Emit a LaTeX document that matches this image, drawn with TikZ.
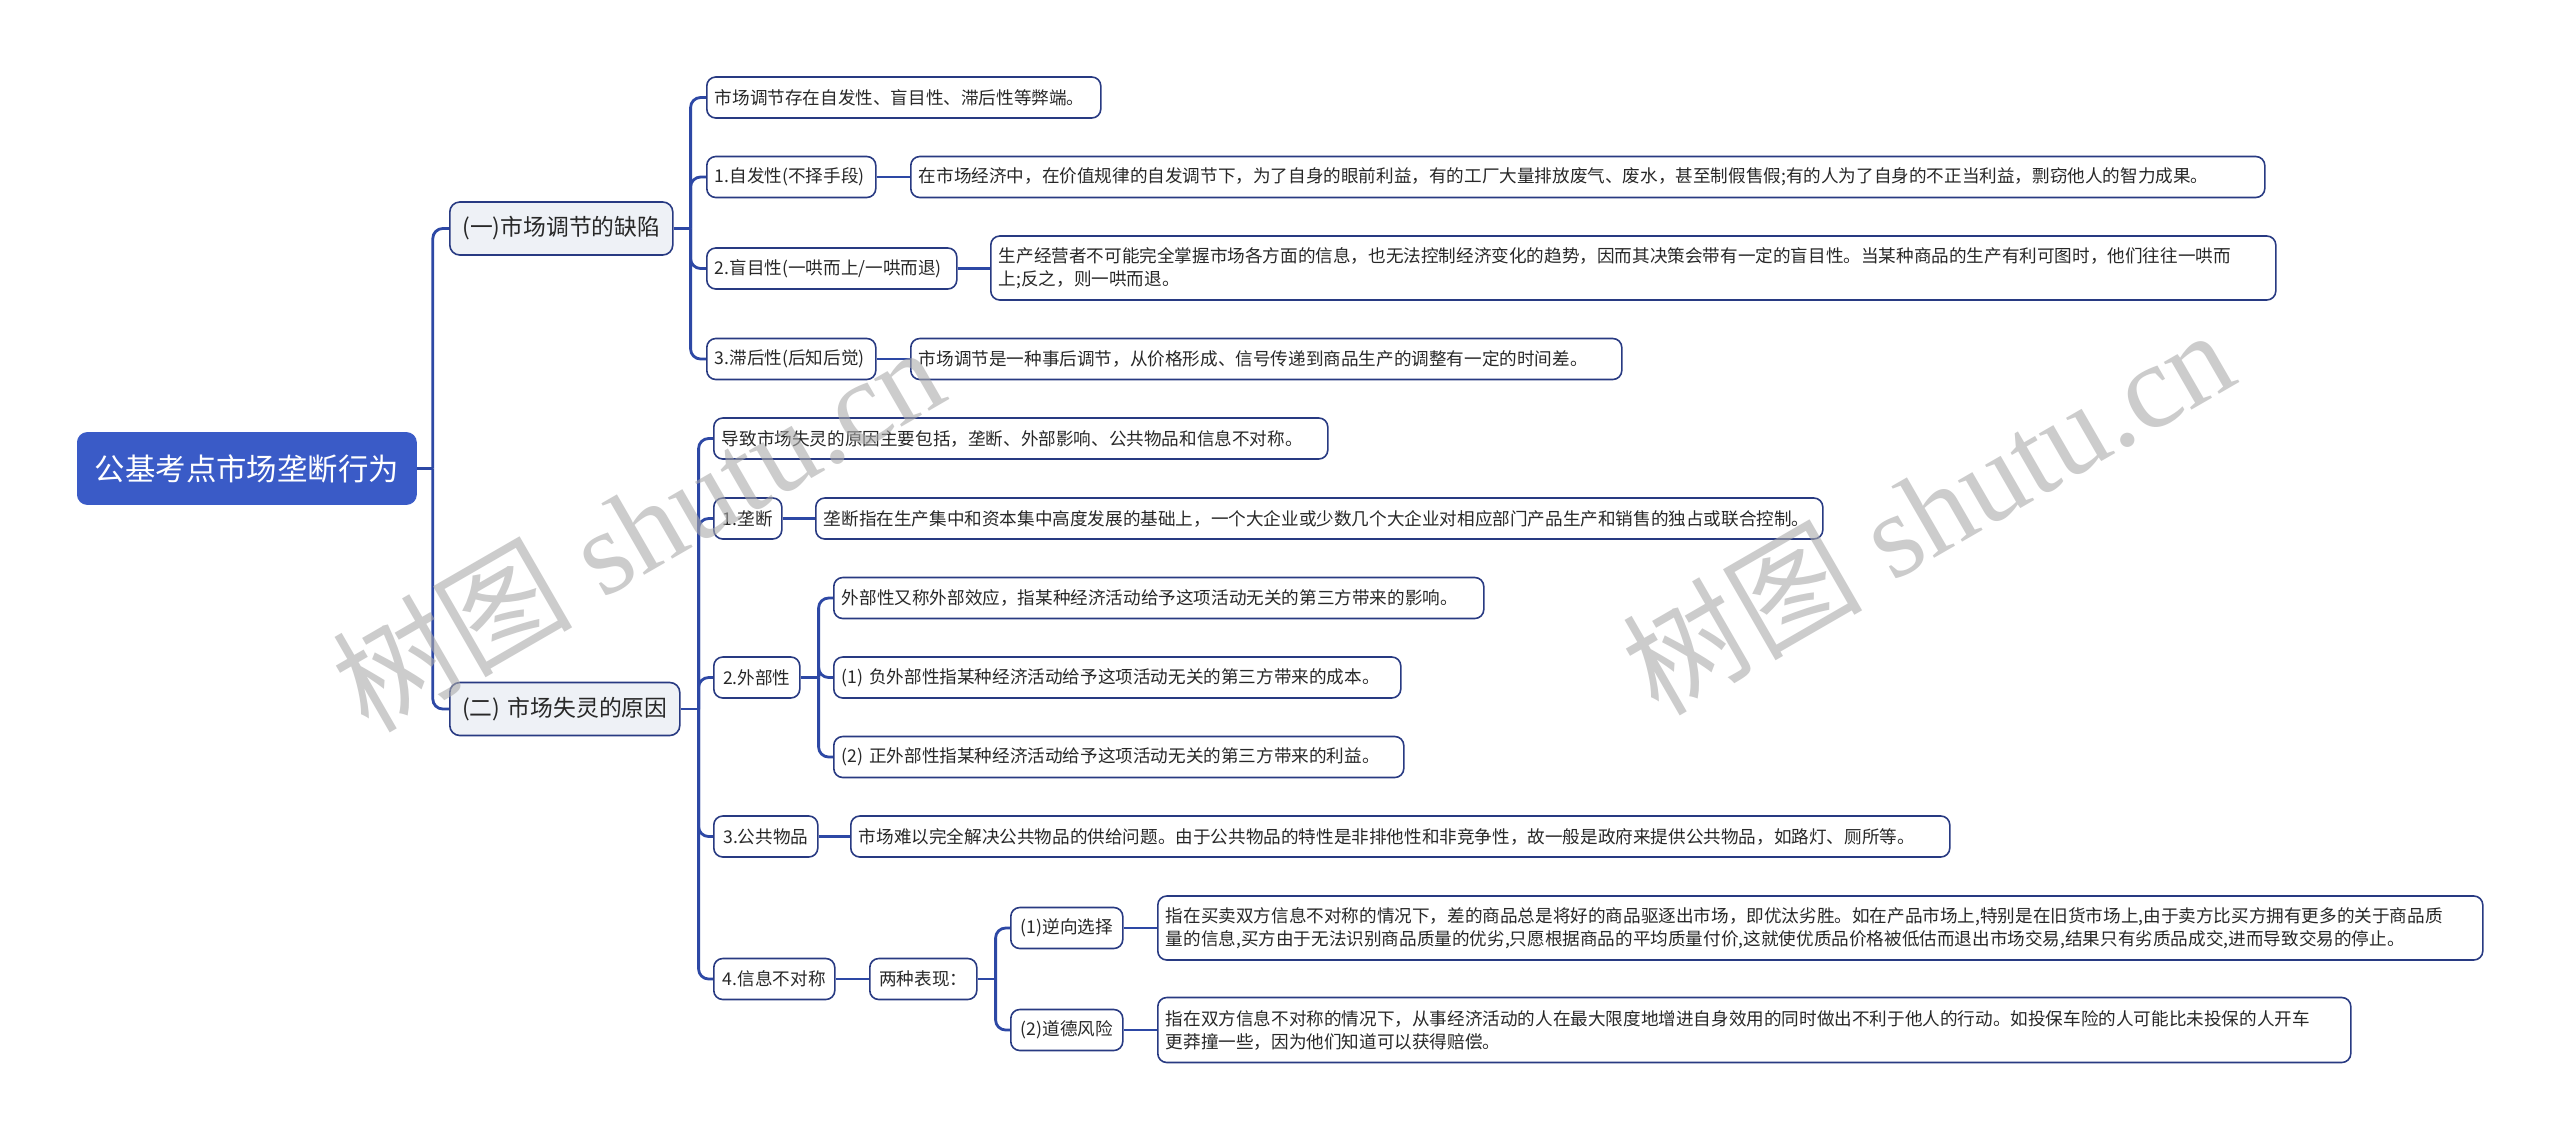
\documentclass[tikz,border=0pt]{standalone}
\usepackage{fontspec}
\setmainfont{Noto Sans CJK SC}
\newfontfamily\wmlatin{Liberation Serif}
\newfontfamily\wmcjk{Noto Sans CJK SC}
\usetikzlibrary{calc}
\definecolor{rootblue}{RGB}{58,91,199}
\definecolor{linec}{RGB}{45,72,165}
\definecolor{borderc}{RGB}{40,58,130}
\definecolor{branchfill}{RGB}{238,241,246}
\definecolor{txt}{RGB}{40,40,40}
\definecolor{wm}{RGB}{170,170,170}
\pgfdeclarelayer{bg}
\pgfsetlayers{bg,main}
\begin{document}
\begin{tikzpicture}[x=0.5pt,y=-0.5pt,
  box/.style={draw=borderc, line width=0.8pt, rounded corners=4.5pt, fill=white, text=txt,
    inner xsep=4pt, inner ysep=2pt, anchor=west, align=left,
    font=\fontsize{8.8pt}{11.5pt}\selectfont, minimum height=20.5pt},
  two/.style={minimum height=32pt},
  ctr/.style={align=center},
  rootbox/.style={draw=rootblue, fill=rootblue, rounded corners=5pt, text=white, anchor=west,
    align=center, inner xsep=4pt, minimum height=36pt, font=\fontsize{15.2pt}{18pt}\selectfont},
  branch/.style={draw=borderc, line width=0.8pt, fill=branchfill, rounded corners=5pt, text=txt,
    anchor=west, align=center, inner xsep=4pt, minimum height=26.5pt,
    font=\fontsize{11.4pt}{14pt}\selectfont},
  conn/.style={draw=linec, line width=1.4pt, rounded corners=5pt},
  wmark/.style={text=wm, text opacity=0.6, rotate=30, inner sep=0pt}
]
\useasboundingbox (0,0) rectangle (2560,1140);

% root and branches
\node[rootbox, text width=161.5pt] (root) at (77,468.5) {公基考点市场垄断行为};
\node[branch, text width=103.5pt] (b1) at (449,228.5) {(一)市场调节的缺陷};
\node[branch, text width=107pt] (b2) at (449,709) {(二) 市场失灵的原因};

% branch 1 children
\node[box, text width=189pt] (c1) at (706,97.5) {市场调节存在自发性、盲目性、滞后性等弊端。};
\node[box, text width=76.5pt] (c2) at (706,177) {1.自发性(不择手段)};
\node[box, text width=669pt] (c2d) at (910,177) {在市场经济中，在价值规律的自发调节下，为了自身的眼前利益，有的工厂大量排放废气、废水，甚至制假售假;有的人为了自身的不正当利益，剽窃他人的智力成果。};
\node[box, text width=117pt] (c3) at (706,268.5) {2.盲目性(一哄而上/一哄而退)};
\node[box, two, text width=634.5pt] (c3d) at (990,268) {生产经营者不可能完全掌握市场各方面的信息，也无法控制经济变化的趋势，因而其决策会带有一定的盲目性。当某种商品的生产有利可图时，他们往往一哄而\\上;反之，则一哄而退。};
\node[box, text width=76.5pt] (c4) at (706,359) {3.滞后性(后知后觉)};
\node[box, text width=347.5pt] (c4d) at (910,359) {市场调节是一种事后调节，从价格形成、信号传递到商品生产的调整有一定的时间差。};

% branch 2 children
\node[box, text width=299pt] (d0) at (713,438.5) {导致市场失灵的原因主要包括，垄断、外部影响、公共物品和信息不对称。};
\node[box, ctr, text width=26pt] (d1) at (713,518.5) {1.垄断};
\node[box, text width=495.5pt] (d1d) at (815,518.5) {垄断指在生产集中和资本集中高度发展的基础上，一个大企业或少数几个大企业对相应部门产品生产和销售的独占或联合控制。};
\node[box, ctr, text width=35pt] (d2) at (713,677.5) {2.外部性};
\node[box, text width=317pt] (e1) at (833,598) {外部性又称外部效应，指某种经济活动给予这项活动无关的第三方带来的影响。};
\node[box, text width=275.5pt] (e2) at (833,677.5) {(1) 负外部性指某种经济活动给予这项活动无关的第三方带来的成本。};
\node[box, text width=277pt] (e3) at (833,757) {(2) 正外部性指某种经济活动给予这项活动无关的第三方带来的利益。};
\node[box, ctr, text width=44pt] (d3) at (713,836.5) {3.公共物品};
\node[box, text width=541.5pt] (d3d) at (850,836.5) {市场难以完全解决公共物品的供给问题。由于公共物品的特性是非排他性和非竞争性，故一般是政府来提供公共物品，如路灯、厕所等。};
\node[box, ctr, text width=52.5pt] (d4) at (713,979) {4.信息不对称};
\node[box, ctr, text width=45.5pt] (f) at (869,979) {两种表现：};
\node[box, ctr, text width=48pt] (g1) at (1010,928) {(1)逆向选择};
\node[box, two, text width=654.5pt] (h1) at (1157,928) {指在买卖双方信息不对称的情况下，差的商品总是将好的商品驱逐出市场，即优汰劣胜。如在产品市场上,特别是在旧货市场上,由于卖方比买方拥有更多的关于商品质\\量的信息,买方由于无法识别商品质量的优劣,只愿根据商品的平均质量付价,这就使优质品价格被低估而退出市场交易,结果只有劣质品成交,进而导致交易的停止。};
\node[box, ctr, text width=48pt] (g2) at (1010,1030) {(2)道德风险};
\node[box, two, minimum height=32.5pt, text width=588.5pt] (h2) at (1157,1030) {指在双方信息不对称的情况下，从事经济活动的人在最大限度地增进自身效用的同时做出不利于他人的行动。如投保车险的人可能比未投保的人开车\\更莽撞一些，因为他们知道可以获得赔偿。};

% junctions
\coordinate (jr) at ($(root.east)+(16,0)$);
\coordinate (jb1) at ($(b1.east)+(17,0)$);
\coordinate (jb2) at ($(b2.east)+(18,0)$);
\coordinate (jd2) at ($(d2.east)+(18,0)$);
\coordinate (jf) at ($(f.east)+(18,0)$);

\begin{pgfonlayer}{bg}
\fill[white] (0,0) rectangle (2560,1140);
\draw[conn] (root.east) -- (jr);
\draw[conn] (jr) |- (b1.west);
\draw[conn] (jr) |- (b2.west);
\draw[conn] (b1.east) -- (jb1);
\foreach \n in {c1,c2,c3,c4} \draw[conn] (jb1) |- (\n.west);
\draw[conn] (c2.east) -- (c2d.west);
\draw[conn] (c3.east) -- (c3d.west |- c3.east);
\draw[conn] (c4.east) -- (c4d.west);
\draw[conn] (b2.east) -- (jb2);
\foreach \n in {d0,d1,d2,d3,d4} \draw[conn] (jb2) |- (\n.west);
\draw[conn] (d1.east) -- (d1d.west);
\draw[conn] (d2.east) -- (jd2);
\foreach \n in {e1,e2,e3} \draw[conn] (jd2) |- (\n.west);
\draw[conn] (d3.east) -- (d3d.west);
\draw[conn] (d4.east) -- (f.west);
\draw[conn] (f.east) -- (jf);
\foreach \n in {g1,g2} \draw[conn] (jf) |- (\n.west);
\draw[conn] (g1.east) -- (h1.west);
\draw[conn] (g2.east) -- (h2.west);
\end{pgfonlayer}

% watermarks
\node[wmark] (wm1) at (637,527) {\fontsize{60pt}{60pt}\wmcjk 树图\wmlatin{} shutu.cn};
\node[wmark] (wm2) at (1927,510) {\fontsize{60pt}{60pt}\wmcjk 树图\wmlatin{} shutu.cn};
\end{tikzpicture}
\end{document}
